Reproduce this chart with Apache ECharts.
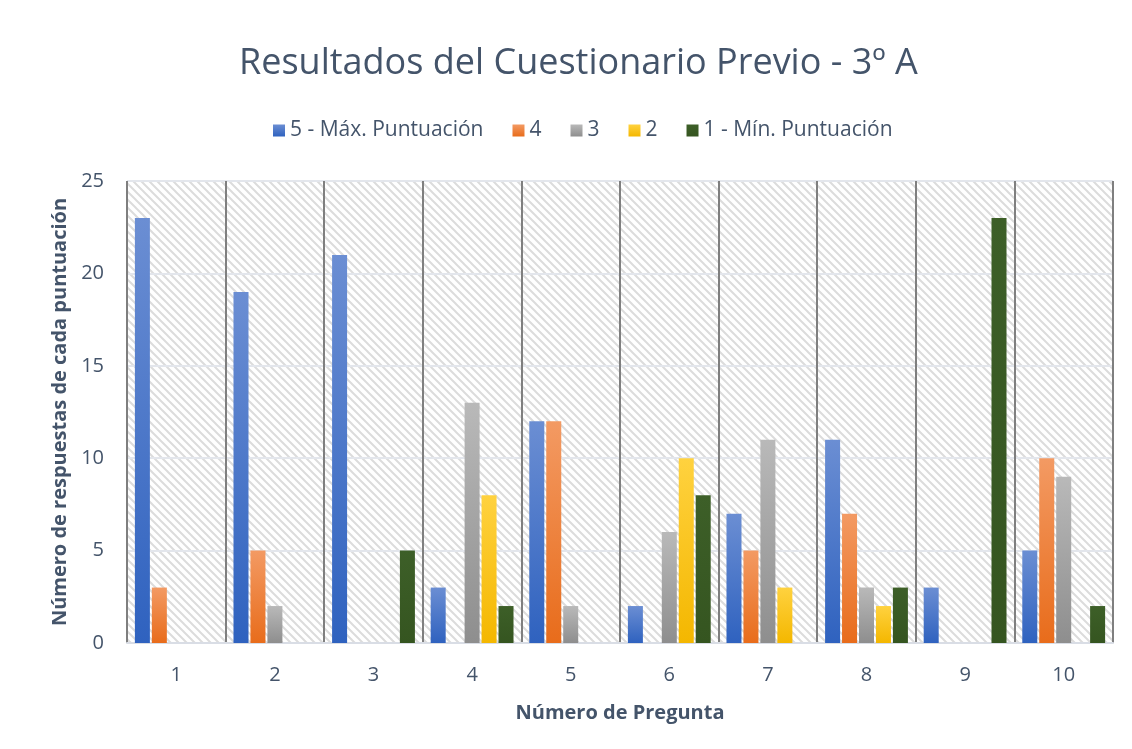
<!DOCTYPE html>
<html>
<head>
<meta charset="utf-8">
<script src="https://cdn.jsdelivr.net/npm/echarts@6/dist/echarts.min.js"></script>
<style>
html,body{margin:0;padding:0;background:#fff;}
#main{width:1132px;height:749px;}
</style>
</head>
<body>
<div id="main"></div>
<script>
// datos del cuestionario
var preguntas = ['1','2','3','4','5','6','7','8','9','10'];
var nombres = ['5 - Máx. Puntuación','4','3','2','1 - Mín. Puntuación'];
var p5 = [23,19,21,3,12,2,7,11,3,5];
var p4 = [3,5,0,0,12,0,5,7,0,10];
var p3 = [0,2,0,13,2,6,11,3,0,9];
var p2 = [0,0,0,8,0,10,3,2,0,0];
var p1 = [0,0,5,2,0,8,0,3,23,2];
var yTicks = [0,5,10,15,20,25];

var colores = [
	['#6b8ed3','#2f62bf'],
	['#f39a63','#e86c1b'],
	['#b9b9b9','#8e8e8e'],
	['#ffd23f','#f4b700'],
	['#3d5f28','#355520']
];

// fondo rayado del area de trazado
var cv = document.createElement('canvas');
cv.width = 8; cv.height = 8;
var cx = cv.getContext('2d');
cx.fillStyle = '#ffffff';
cx.fillRect(0,0,8,8);
cx.strokeStyle = '#dcdcdc';
cx.lineWidth = 2;
cx.beginPath();
cx.moveTo(-2,-2); cx.lineTo(10,10);
cx.moveTo(-10,-2); cx.lineTo(2,10);
cx.moveTo(6,-2); cx.lineTo(18,10);
cx.stroke();

function grad(c){
	return new echarts.graphic.LinearGradient(0,0,0,1,[{offset:0,color:c[0]},{offset:1,color:c[1]}]);
}

var valores = [p5,p4,p3,p2,p1];
var series = [];
for(var i=0;i<valores.length;i++){
	series.push({
		name:nombres[i],
		type:'bar',
		barGap:'13%',
		barCategoryGap:'16%',
		itemStyle:{color:grad(colores[i])},
		data:valores[i]
	});
}

var myChart = echarts.init(document.getElementById('main'));
var option = {
	animation:false,
	title:{
		text:'Resultados del Cuestionario Previo - 3º A',
		left:234,
		top:41,
		textStyle:{fontFamily:'Open Sans',fontWeight:'normal',fontSize:36,color:'#44546a'}
	},
	legend:{
		top:115,
		left:268,
		itemWidth:12,
		itemHeight:12,
		itemGap:29,
		icon:'rect',
		textStyle:{fontFamily:'Open Sans',fontSize:21,color:'#44546a'},
		data:nombres
	},
	grid:{
		left:127,
		right:19,
		top:181,
		bottom:106,
		show:true,
		borderWidth:0,
		backgroundColor:{image:cv,repeat:'repeat'}
	},
	xAxis:{
		type:'category',
		data:preguntas,
		name:'Número de Pregunta',
		nameLocation:'middle',
		nameGap:60,
		nameTextStyle:{fontFamily:'Open Sans',fontWeight:'bold',fontSize:20,color:'#44546a'},
		axisLine:{lineStyle:{color:'#d9dde5',width:2}},
		axisTick:{show:false},
		axisLabel:{fontFamily:'Open Sans',fontSize:20,color:'#44546a',margin:22},
		splitLine:{show:true,interval:0,lineStyle:{color:'#7f7f7f',width:2}}
	},
	yAxis:{
		type:'value',
		min:yTicks[0],
		max:yTicks[yTicks.length-1],
		interval:5,
		name:'Número de respuestas de cada puntuación',
		nameLocation:'middle',
		nameGap:56,
		nameTextStyle:{fontFamily:'Open Sans',fontWeight:'bold',fontSize:20,color:'#44546a'},
		axisLine:{show:false},
		axisTick:{show:false},
		axisLabel:{fontFamily:'Open Sans',fontSize:20,color:'#44546a',margin:23},
		splitLine:{lineStyle:{color:'#e3e6ec',width:2}}
	},
	series:series
};
myChart.setOption(option);
</script>
</body>
</html>
